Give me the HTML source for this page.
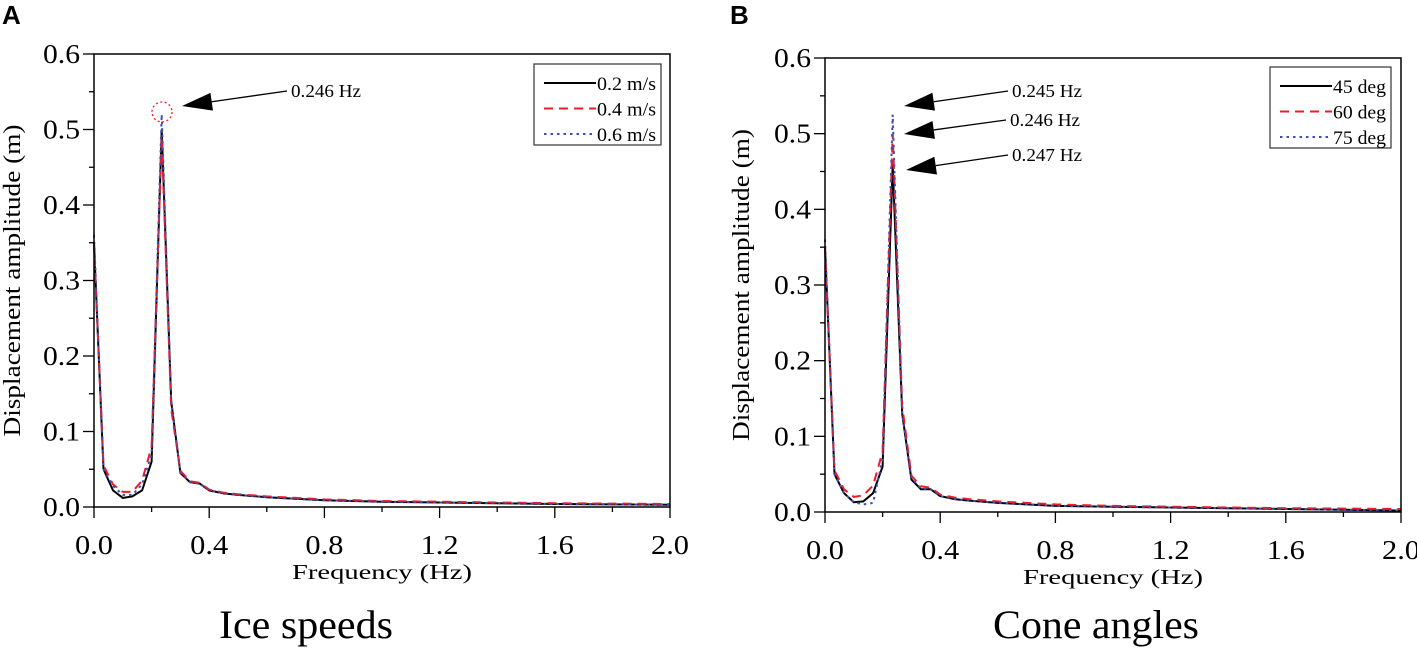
<!DOCTYPE html>
<html><head><meta charset="utf-8">
<style>
html,body{margin:0;padding:0;background:#fff;}
svg{display:block;font-family:"Liberation Serif",serif;}
.lab{font-family:"Liberation Sans",sans-serif;font-weight:bold;font-size:26px;}
</style></head>
<body>
<svg id="fig" width="1417" height="649" viewBox="0 0 1417 649" xmlns="http://www.w3.org/2000/svg">
</svg>
<script>
const freqs = [0,0.033,0.066,0.1,0.133,0.167,0.2,0.235,0.268,0.3,0.333,0.367,0.4,0.45,0.5,0.6,0.7,0.8,1.0,1.2,1.4,1.6,1.8,2.0];
const speed02 = [0.35,0.05,0.022,0.012,0.014,0.022,0.06,0.50,0.14,0.045,0.033,0.031,0.022,0.018,0.016,0.013,0.011,0.009,0.007,0.006,0.005,0.004,0.0035,0.003];
const speed04 = [0.35,0.055,0.03,0.02,0.02,0.035,0.08,0.49,0.13,0.048,0.034,0.032,0.023,0.019,0.017,0.014,0.012,0.010,0.008,0.007,0.006,0.005,0.0045,0.004];
const speed06 = [0.36,0.05,0.028,0.016,0.016,0.03,0.07,0.52,0.14,0.046,0.033,0.031,0.022,0.018,0.016,0.013,0.011,0.009,0.007,0.006,0.005,0.004,0.0035,0.003];
const angle45 = [0.35,0.05,0.025,0.013,0.014,0.025,0.06,0.46,0.13,0.043,0.03,0.03,0.021,0.017,0.015,0.012,0.010,0.008,0.007,0.006,0.005,0.004,0.003,0.002];
const angle60 = [0.35,0.055,0.03,0.02,0.022,0.035,0.08,0.50,0.14,0.048,0.034,0.032,0.023,0.019,0.017,0.014,0.012,0.010,0.008,0.007,0.006,0.005,0.0045,0.004];
const angle75 = [0.36,0.05,0.025,0.013,0.01,0.012,0.07,0.525,0.13,0.045,0.031,0.03,0.021,0.017,0.015,0.012,0.010,0.008,0.007,0.006,0.005,0.004,0.003,0.002];
const yTicks = ["0.0","0.1","0.2","0.3","0.4","0.5","0.6"];
const xTicks = ["0.0","0.4","0.8","1.2","1.6","2.0"];
const legendA = ["0.2 m/s","0.4 m/s","0.6 m/s"];
const legendB = ["45 deg","60 deg","75 deg"];

const NS="http://www.w3.org/2000/svg";
const svg=document.getElementById('fig');
function mk(tag,attrs,parent,text){const e=document.createElementNS(NS,tag);for(const k in attrs)e.setAttribute(k,attrs[k]);if(text!==undefined)e.textContent=text;(parent||svg).appendChild(e);return e;}

const styles=[{stroke:"#000",dash:""},{stroke:"#ee1c25",dash:"9,6"},{stroke:"#3b4fb8",dash:"2.5,4"}];

function panel(cfg){
  const g=mk('g',{});
  
  
  const {x0,x1,y0,y1}=cfg;
  const X=v=>x0+(v/2.0)*(x1-x0);
  const Y=v=>y0-(v/0.6)*(y0-y1);
  cfg.series.forEach((s,i)=>{
    const d=freqs.map((f,j)=>(j?'L':'M')+X(f).toFixed(1)+','+Y(s[j]).toFixed(1)).join(' ');
    const p=mk('path',{d:d,fill:'none',stroke:styles[i].stroke,'stroke-width':2,'stroke-dasharray':styles[i].dash},g);
    
    
  });
  const fr=mk('rect',{x:x0,y:y1,width:x1-x0,height:y0-y1,fill:'none',stroke:'#000','stroke-width':1.5},g);
  
  
  for(let k=0;k<=12;k++){
    const v=k*0.05,y=Y(v),major=k%2===0;
    mk('line',{x1:x0,x2:x0-(major?11:5),y1:y,y2:y,stroke:'#000','stroke-width':1.3},g);
  }
  yTicks.forEach(t=>{
    const tx=mk('text',{x:x0-14,y:Y(parseFloat(t))+9,'text-anchor':'end','font-size':27,textLength:37,lengthAdjust:'spacingAndGlyphs'},g,t);
    
    
  });
  for(let k=0;k<=10;k++){
    const v=k*0.2,x=X(v),major=k%2===0;
    mk('line',{x1:x,x2:x,y1:y0,y2:y0+(major?11:5),stroke:'#000','stroke-width':1.3},g);
  }
  xTicks.forEach(t=>{
    const tx=mk('text',{x:X(parseFloat(t)),y:y0+47,'text-anchor':'middle','font-size':27,textLength:38,lengthAdjust:'spacingAndGlyphs'},g,t);
    
    
  });
  const xt=mk('text',{x:(x0+x1)/2,y:y0+72,'text-anchor':'middle','font-size':21,textLength:180,lengthAdjust:'spacingAndGlyphs'},g,'Frequency (Hz)');
  
  
  const yt=mk('text',{x:0,y:0,'text-anchor':'middle','font-size':24,textLength:312,lengthAdjust:'spacingAndGlyphs',transform:`translate(${cfg.ytx},${(y0+y1)/2}) rotate(-90)`},g,'Displacement amplitude (m)');
  
  
  const ct=mk('text',{x:cfg.capx,y:638,'text-anchor':'middle','font-size':40,textLength:cfg.capw,lengthAdjust:'spacingAndGlyphs'},g,cfg.caption);
  
  
  const pl=mk('text',{x:cfg.lx,y:24,'class':'lab'},g,cfg.letter);
  
  
  const L=cfg.leg;
  const lg=mk('g',{},g);
  
  
  mk('rect',{x:L.x,y:L.y,width:L.w,height:L.h,fill:'#fff',stroke:'#333','stroke-width':1.2},lg);
  cfg.legend.forEach((n,i)=>{
    const yy=L.y+19+i*25.5;
    mk('line',{x1:L.x+10,x2:L.x+62,y1:yy,y2:yy,stroke:styles[i].stroke,'stroke-width':2,'stroke-dasharray':styles[i].dash},lg);
    const te=mk('text',{x:L.x+63,y:yy+7,'font-size':19,textLength:L.w-68,lengthAdjust:'spacingAndGlyphs'},lg,n);
    
    
  });
  cfg.ann.forEach(a=>{
    const ang=Math.atan2(a.ty-a.hy,a.tx-a.hx);
    const L2=30,W=9;
    const bx=a.hx+L2*Math.cos(ang),by=a.hy+L2*Math.sin(ang);
    const px=-Math.sin(ang)*W,py=Math.cos(ang)*W;
    mk('path',{d:`M${a.hx},${a.hy} L${bx+px},${by+py} L${bx-px},${by-py} Z`,fill:'#000'},g);
    mk('line',{x1:a.tx,y1:a.ty,x2:bx,y2:by,stroke:'#000','stroke-width':1.3},g);
    const te=mk('text',{x:a.tx+4,y:a.ty+6,'font-size':18,textLength:70,lengthAdjust:'spacingAndGlyphs'},g,a.label);
    
    
  });
  if(cfg.circle){
    const c=mk('circle',{cx:cfg.circle.x,cy:cfg.circle.y,r:10,fill:'none',stroke:'#ee1c25','stroke-width':1.3,'stroke-dasharray':'2,2.5'},g);
    
    
  }
}
panel({name:'panel-a-ice-speeds',x0:94,x1:670,y0:507,y1:54,series:[speed02,speed04,speed06],legend:legendA,
  leg:{x:534,y:64,w:127,h:81},ytx:20,capx:306,capw:174,caption:'Ice speeds',letter:'A',lx:2,
  ann:[{tx:287,ty:91,hx:182,hy:106,label:'0.246 Hz'}],circle:{x:162,y:112}});
panel({name:'panel-b-cone-angles',x0:825,x1:1401,y0:512,y1:58,series:[angle45,angle60,angle75],legend:legendB,
  leg:{x:1270,y:67,w:121,h:81},ytx:749,capx:1096,capw:206,caption:'Cone angles',letter:'B',lx:730,
  ann:[{tx:1008,ty:91,hx:904,hy:106,label:'0.245 Hz'},{tx:1006,ty:120,hx:904,hy:134,label:'0.246 Hz'},{tx:1008,ty:155,hx:906,hy:170,label:'0.247 Hz'}]});
</script>
</body></html>
